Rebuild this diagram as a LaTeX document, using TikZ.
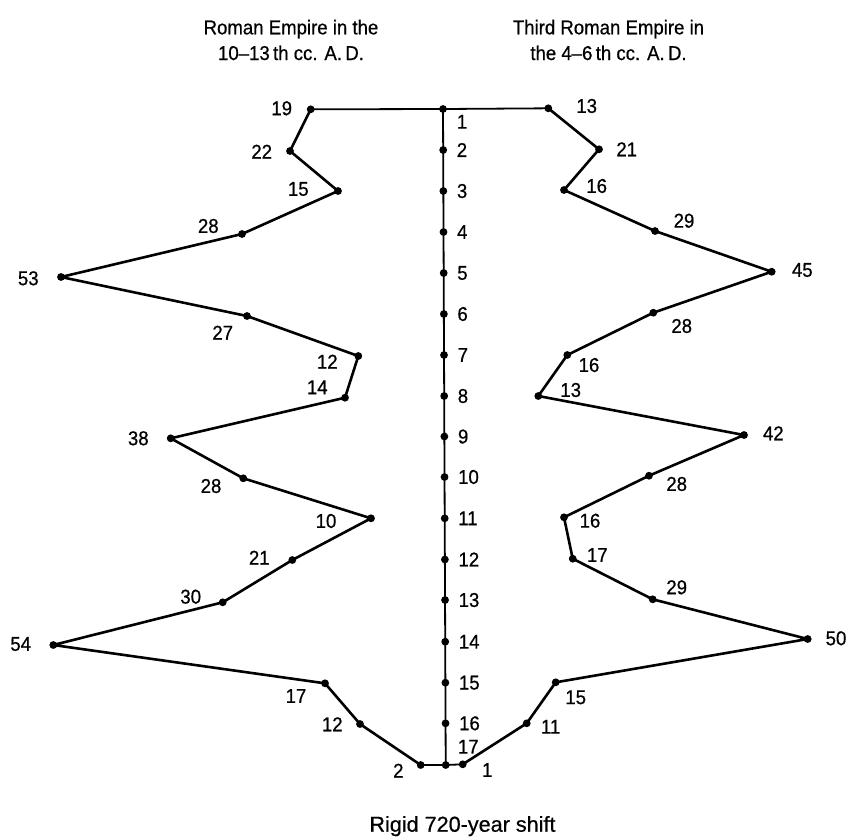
\documentclass[tikz,border=0pt]{standalone}
\usepackage{fontspec}
\setmainfont{Liberation Sans}
\newfontfamily\lblfont{Liberation Sans}[FakeStretch=0.93,FakeBold=0.6,Ligatures=TeX]
\newfontfamily\btmfont{Liberation Sans}[FakeBold=0.6,Ligatures=TeX]
\begin{document}
\begin{tikzpicture}[x=0.5pt,y=-0.5pt,
  dot/.style={circle,fill=black,inner sep=0pt,minimum size=3.9pt},
  num/.style={inner sep=0pt,font=\lblfont\fontsize{10}{12}\selectfont},
  chainline/.style={line width=1.3pt,line join=round},
  axisline/.style={line width=0.9pt},
  titletext/.style={inner sep=0pt,font=\lblfont\fontsize{10}{12}\selectfont,anchor=base}]
\useasboundingbox (0,0) rectangle (849,836);

% titles
\node[titletext] (tl1) at (291,34.3) {Roman Empire in the};
\node[titletext] (tl2) at (291,60) {10–13\,th cc. A.\,D.};
\node[titletext] (tr1) at (608.5,34.3) {Third Roman Empire in};
\node[titletext] (tr2) at (608.5,60) {the 4–6\,th cc. A.\,D.};
\node[inner sep=0pt,font=\btmfont\fontsize{10.8}{13}\selectfont,anchor=base] (bottom) at (462.5,831.7) {Rigid 720-year shift};

% central axis
\foreach \i/\y in {1/109,2/150,3/191,4/232,5/273,6/314,7/355,8/396,9/436.5,10/477,11/518.3,12/559.5,13/600,14/641.7,15/682.7,16/723.3,17/765}
  \node[dot] (C\i) at ({443+(\i-1)*0.17},\y) {};
\draw[axisline] (C1.center) -- (C17.center);
\foreach \i in {2,...,16}
  \node[num,anchor=west] (CL\i) at ([xshift=6.6pt]C\i.center) {\i};
\node[num] (CL1) at (462,121.7) {1};
\node[num] (CL17) at (468.3,746.7) {17};

% left chain
\node[dot] (L19) at (310.7,109.3) {};
\node[dot] (L22) at (290,151) {};
\node[dot] (L15) at (338,191) {};
\node[dot] (L28a) at (242,234) {};
\node[dot] (L53) at (61,277) {};
\node[dot] (L27) at (247,316) {};
\node[dot] (L12a) at (358.3,356) {};
\node[dot] (L14) at (345,397.7) {};
\node[dot] (L38) at (170.7,438.3) {};
\node[dot] (L28b) at (243.3,478.3) {};
\node[dot] (L10) at (371,518.3) {};
\node[dot] (L21) at (292.3,560) {};
\node[dot] (L30) at (222.7,602.3) {};
\node[dot] (L54) at (53.3,645) {};
\node[dot] (L17) at (325,683.3) {};
\node[dot] (L12b) at (360,724) {};
\node[dot] (L2) at (420.7,765) {};

\node[num] (tL19) at (281.7,108.3) {19};
\node[num] (tL22) at (261.7,151.7) {22};
\node[num] (tL15) at (298.3,189) {15};
\node[num] (tL28a) at (208.3,226) {28};
\node[num] (tL53) at (28.3,278.3) {53};
\node[num] (tL27) at (222.7,332.7) {27};
\node[num] (tL12a) at (327.3,361.7) {12};
\node[num] (tL14) at (317.3,387.3) {14};
\node[num] (tL38) at (138.3,438.3) {38};
\node[num] (tL28b) at (211,486) {28};
\node[num] (tL10) at (326,521) {10};
\node[num] (tL21) at (259.3,557.7) {21};
\node[num] (tL30) at (190.7,596.7) {30};
\node[num] (tL54) at (20.7,644) {54};
\node[num] (tL17) at (296,696) {17};
\node[num] (tL12b) at (332.3,724.3) {12};
\node[num] (tL2) at (398.3,770.7) {2};

\draw[chainline] (L19.center) -- (L22.center) -- (L15.center) -- (L28a.center) -- (L53.center) -- (L27.center) -- (L12a.center) -- (L14.center) -- (L38.center) -- (L28b.center) -- (L10.center) -- (L21.center) -- (L30.center) -- (L54.center) -- (L17.center) -- (L12b.center) -- (L2.center);

% right chain
\node[dot] (R13) at (548.3,108.3) {};
\node[dot] (R21) at (599,149.3) {};
\node[dot] (R16a) at (564,190) {};
\node[dot] (R29a) at (655,231) {};
\node[dot] (R45) at (771.7,271.7) {};
\node[dot] (R28a) at (653.3,312.7) {};
\node[dot] (R16b) at (567.3,355) {};
\node[dot] (R13b) at (538.3,396) {};
\node[dot] (R42) at (744,435) {};
\node[dot] (R28b) at (649,475.7) {};
\node[dot] (R16c) at (564,517.3) {};
\node[dot] (R17) at (572.7,558.7) {};
\node[dot] (R29b) at (652.7,599.3) {};
\node[dot] (R50) at (807.7,639) {};
\node[dot] (R15) at (555.7,682.3) {};
\node[dot] (R11) at (526.7,723.3) {};
\node[dot] (R1) at (462.7,764.3) {};

\node[num] (tR13) at (586.7,106) {13};
\node[num] (tR21) at (626.7,149.3) {21};
\node[num] (tR16a) at (596.7,186) {16};
\node[num] (tR29a) at (684,220.7) {29};
\node[num] (tR45) at (802.3,270) {45};
\node[num] (tR28a) at (681.7,326) {28};
\node[num] (tR16b) at (589,365) {16};
\node[num] (tR13b) at (570.7,390) {13};
\node[num] (tR42) at (773.3,433.3) {42};
\node[num] (tR28b) at (676.7,484) {28};
\node[num] (tR16c) at (590,520.7) {16};
\node[num] (tR17) at (597.3,555) {17};
\node[num] (tR29b) at (676.7,587.3) {29};
\node[num] (tR50) at (836,638.3) {50};
\node[num] (tR15) at (575.7,697.3) {15};
\node[num] (tR11) at (550.7,726.7) {11};
\node[num] (tR1) at (487.3,770) {1};

\draw[chainline] (R13.center) -- (R21.center) -- (R16a.center) -- (R29a.center) -- (R45.center) -- (R28a.center) -- (R16b.center) -- (R13b.center) -- (R42.center) -- (R28b.center) -- (R16c.center) -- (R17.center) -- (R29b.center) -- (R50.center) -- (R15.center) -- (R11.center) -- (R1.center);

% top and bottom joins
\draw[axisline] (L19.center) -- (C1.center) -- (R13.center);
\draw[axisline] (L2.center) -- (C17.center) -- (R1.center);
\end{tikzpicture}
\end{document}
